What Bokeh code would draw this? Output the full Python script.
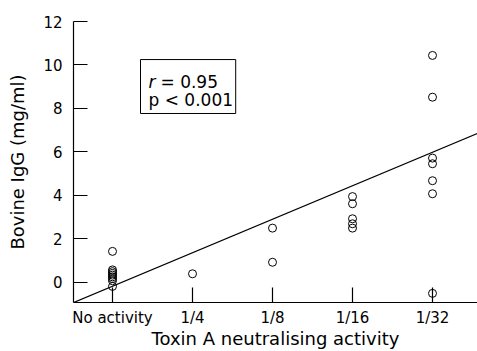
from bokeh.plotting import figure
from bokeh.models import FixedTicker, Slope, BoxAnnotation, Label, Range1d
from bokeh.embed import file_html
from bokeh.resources import INLINE

# ---- data ----
categories = ["No activity", "1/4", "1/8", "1/16", "1/32"]
no_activity = [1.43, 0.58, 0.50, 0.42, 0.34, 0.26, 0.18, 0.08, -0.18]
quarter = [0.40]
eighth = [2.50, 0.93]
sixteenth = [3.95, 3.62, 2.93, 2.70, 2.50]
thirty_second = [10.44, 8.52, 5.72, 5.46, 4.68, 4.08, -0.50]
y_ticks = [0, 2, 4, 6, 8, 10, 12]
fit_intercept = -0.17
fit_slope = 1.54
r_value = "= 0.95"
p_value = "p < 0.001"
x_title = "Toxin A neutralising activity"
y_title = "Bovine IgG (mg/ml)"

groups = [no_activity, quarter, eighth, sixteenth, thirty_second]
xs, ys = [], []
for i, g in enumerate(groups):
    xs += [i] * len(g)
    ys += g

FONT = "DejaVu Sans"

p = figure(width=477, height=351, output_backend="svg", toolbar_location=None,
           x_range=Range1d(-0.4875, 4.5625), y_range=Range1d(-0.92, 12),
           min_border_left=73, min_border_right=0, min_border_top=21,
           min_border_bottom=49)
p.outline_line_color = None
p.xgrid.visible = False
p.ygrid.visible = False
p.background_fill_color = "white"

for ax in (p.xaxis, p.yaxis):
    ax.axis_line_color = "black"
    ax.axis_line_width = 1.2
    ax.major_tick_line_color = "black"
    ax.major_tick_line_width = 1.2
    ax.major_tick_out = 0
    ax.minor_tick_line_color = None
    ax.major_label_text_font = FONT
    ax.major_label_text_font_size = "15px"
    ax.major_label_text_color = "black"
    ax.axis_label_text_font = FONT
    ax.axis_label_text_font_size = "18px"
    ax.axis_label_text_font_style = "normal"
    ax.axis_label_text_color = "black"

p.xaxis.ticker = FixedTicker(ticks=list(range(len(categories))))
p.xaxis.major_label_overrides = {i: c for i, c in enumerate(categories)}
p.xaxis.major_tick_in = 15
p.xaxis.major_label_standoff = 6
p.xaxis.axis_label = x_title
p.xaxis.axis_label_standoff = -2

p.yaxis.ticker = FixedTicker(ticks=y_ticks)
p.yaxis.major_tick_in = 14
p.yaxis.major_label_standoff = 11
p.yaxis.axis_label = y_title
p.yaxis.axis_label_standoff = 12

p.add_layout(Slope(gradient=fit_slope, y_intercept=fit_intercept,
                   line_color="black", line_width=1.3))

p.scatter(xs, ys, marker="circle", size=8, fill_color=None,
          line_color="black", line_width=1)

p.add_layout(BoxAnnotation(left=0.35, right=1.54, bottom=7.77, top=10.25,
                           fill_color=None, fill_alpha=0,
                           line_color="black", line_alpha=1, line_width=1))
p.add_layout(Label(x=0.45, y=9.2, text="r", text_font=FONT,
                   text_font_style="italic", text_font_size="17px",
                   text_baseline="alphabetic", text_color="black"))
p.add_layout(Label(x=0.6, y=9.2, text=r_value, text_font=FONT,
                   text_font_size="17px", text_baseline="alphabetic",
                   text_color="black"))
p.add_layout(Label(x=0.45, y=8.37, text=p_value, text_font=FONT,
                   text_font_size="17px", text_baseline="alphabetic",
                   text_color="black"))

open("out.html", "w").write(file_html(p, INLINE))
